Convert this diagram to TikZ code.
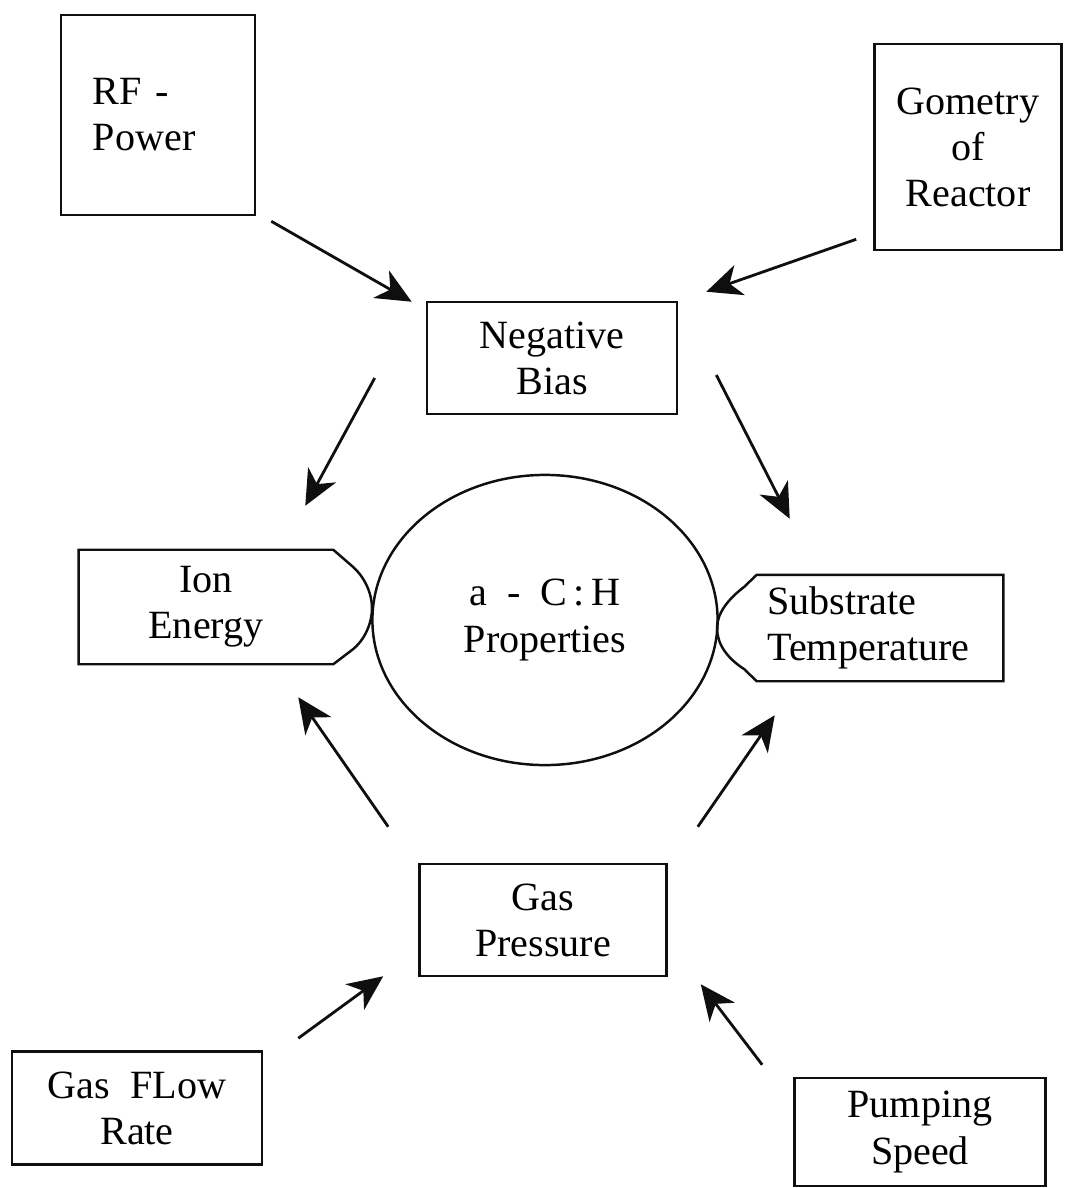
\documentclass[tikz,border=0pt]{standalone}
\usepackage{fontspec}
\setmainfont{Liberation Serif}
\usepackage{tikz}
\usetikzlibrary{positioning,arrows.meta,shapes.geometric}
\definecolor{Ctraco}{RGB}{15,15,15}

\begin{document}
\begin{tikzpicture}[x=0.01cm, y=-0.01cm,
    caixa/.style={draw=Ctraco, line width=0.7pt, align=center, inner sep=0pt,
      font=\fontsize{11.4}{13.1}\selectfont},
    etiqueta/.style={align=center, inner sep=0pt,
      font=\fontsize{11.4}{13.1}\selectfont},
    seta/.style={draw=Ctraco, line width=0.8pt,
      -{Stealth[length=10pt,width=9pt,inset=3pt]}}]
      % Area total (margens da figura)
      \useasboundingbox (0,0) rectangle (1065,1188);
      % Caixas de entrada
      \node[caixa, minimum width=1.94cm, minimum height=2.0cm,
        text width=1.3cm, align=left] (rf) at (158,115) {RF -\\Power};
      \node[caixa, minimum width=1.87cm, minimum height=2.06cm] (geo) at (968,147)
        {Gometry\\of\\Reactor};
      \node[caixa, minimum width=2.5cm, minimum height=1.12cm] (neg) at (552,358)
        {Negative\\Bias};
      \node[caixa, minimum width=2.47cm, minimum height=1.12cm] (gas) at (543,920)
        {Gas\\Pressure};
      \node[caixa, minimum width=2.5cm, minimum height=1.13cm] (flow) at (137,1108)
        {Gas\ \ FLow\\Rate};
      \node[caixa, minimum width=2.51cm, minimum height=1.08cm] (pump) at (920,1132)
        {Pumping\\Speed};
      % Elipse central
      \node[caixa, ellipse, minimum width=3.45cm, minimum height=2.9cm] (prop)
        at (545,620) {a\ \ -\ \ C\,:\,H\\Properties};
      % Etiquetas laterais (contorno desenhado a parte)
      \node[etiqueta, minimum width=2.53cm, minimum height=1.13cm] (ion) at (206,607)
        {Ion\\Energy};
      \node[etiqueta, minimum width=2.45cm, minimum height=1.05cm,
        text width=2.25cm, align=left] (sub) at (880,628)
        {Substrate\\Temperature};
      \draw[Ctraco, line width=0.7pt] (ion.north west) -- (ion.north east)
        -- (352,566) .. controls (365,577) and (372,594) .. (372,608)
        .. controls (372,623) and (365,640) .. (352,650)
        -- (ion.south east) -- (ion.south west) -- cycle;
      \draw[Ctraco, line width=0.7pt] (sub.north east) -- (sub.north west)
        -- (744,587) .. controls (727,600) and (717,614) .. (717,628)
        .. controls (717,644) and (727,658) .. (744,669)
        -- (sub.south west) -- (sub.south east) -- cycle;
      % Setas
      \draw[seta] ([shift={(15,5)}]rf.south east) -- ([shift={(-14,1)}]neg.north west);
      \draw[seta] ([shift={(-17,-12)}]geo.south west) -- ([shift={(28,-9)}]neg.north east);
      \draw[seta] ([shift={(-51,20)}]neg.west) -- ([shift={(-28,-44)}]ion.north east);
      \draw[seta] ([shift={(38,17)}]neg.east) -- ([shift={(33,-56)}]sub.north west);
      \draw[seta] ([shift={(-30,-36)}]gas.north west) -- ([shift={(-35,33)}]ion.south east);
      \draw[seta] ([shift={(30,-36)}]gas.north east) -- ([shift={(18,34)}]sub.south west);
      \draw[seta] ([shift={(35,-12)}]flow.north east) -- ([shift={(-35,-1)}]gas.south west);
      \draw[seta] ([shift={(-31,-12)}]pump.north west) -- ([shift={(33,7)}]gas.south east);
\end{tikzpicture}
\end{document}
